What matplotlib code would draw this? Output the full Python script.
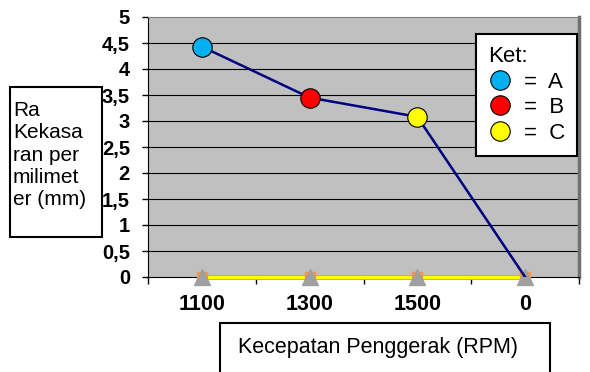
import matplotlib.pyplot as plt
from matplotlib.lines import Line2D
from matplotlib.patches import Rectangle

plt.rcParams['font.family'] = ['Liberation Sans', 'DejaVu Sans']

# data
categories = ["1100", "1300", "1500", "0"]
ra_values = [4.43, 3.45, 3.08, 0]
point_colors = ["#00B0F0", "#FF0000", "#FFFF00"]
baseline = [0, 0, 0, 0]
y_ticks = [0, 0.5, 1, 1.5, 2, 2.5, 3, 3.5, 4, 4.5, 5]
y_tick_labels = ["0", "0,5", "1", "1,5", "2", "2,5", "3", "3,5", "4", "4,5", "5"]
legend_labels = ["=  A", "=  B", "=  C"]

W, H = 590, 372
fig = plt.figure(figsize=(W / 100, H / 100), dpi=100)
ax = fig.add_axes([148 / W, 1 - 277 / H, 431 / W, 260 / H])
ax.set_facecolor("#C0C0C0")

x = list(range(len(categories)))

# grid lines
for v in y_ticks[1:-1]:
    ax.axhline(v, color="black", lw=0.8, zorder=1)

# baseline series at zero
ax.plot(x, baseline, color="#F79646", lw=3.5, zorder=3, clip_on=False)
ax.plot(x, baseline, color="#FFFF00", lw=2.2, zorder=3.5, clip_on=False)
ax.plot(x, baseline, ls="", marker="s", ms=7, color="#F79646", zorder=4, clip_on=False)
ax.plot(x, baseline, ls="", marker="^", ms=11, color="#A0A0A0", zorder=5, clip_on=False)

# main series
ax.plot(x, ra_values, color="#000080", lw=1.8, zorder=6)
for xi, yi, c in zip(x, ra_values, point_colors):
    ax.plot(xi, yi, marker="o", ms=14, mfc=c, mec="black", mew=0.8, zorder=7)

ax.set_xlim(-0.5, len(categories) - 0.5)
ax.set_ylim(0, 5)

ax.set_yticks(y_ticks)
ax.set_yticklabels(y_tick_labels, fontsize=14.5, fontweight="bold")
ax.tick_params(axis="y", direction="out", length=4, width=1, pad=9)

ax.set_xticks(x)
ax.set_xticklabels(categories, fontsize=15.5, fontweight="bold")
ax.set_xticks([i - 0.5 for i in range(len(categories) + 1)], minor=True)
ax.tick_params(axis="x", which="major", length=0, pad=12)
ax.tick_params(axis="x", which="minor", direction="out", length=5, width=1)

ax.spines["left"].set_color("black")
ax.spines["bottom"].set_color("black")
ax.spines["top"].set_color("#808080")
ax.spines["right"].set_color("#707070")
ax.spines["right"].set_linewidth(2.5)

# legend
handles = [Line2D([], [], ls="", marker="o", ms=14, mfc=c, mec="black", mew=0.8)
           for c in point_colors]
leg = ax.legend(handles, legend_labels, title="Ket:", loc="upper left",
                bbox_to_anchor=(476 / W, 1 - 34 / H), bbox_transform=fig.transFigure,
                fontsize=16, title_fontsize=16, frameon=True, fancybox=False,
                borderpad=0.55, labelspacing=0.2, handletextpad=0.5,
                handlelength=1.1, borderaxespad=0)
leg._legend_box.align = "left"
leg.get_frame().set_edgecolor("black")
leg.get_frame().set_linewidth(1.5)
leg.get_frame().set_alpha(1)
leg.set_zorder(10)

# y-axis title box
fig.patches.append(Rectangle((10 / W, 1 - 237 / H), 92 / W, 150 / H,
                             transform=fig.transFigure, fill=True, fc="white",
                             ec="black", lw=1.5))
fig.text(13 / W, 1 - 101 / H, "Ra\nKekasa\nran per\nmilimet\ner (mm)",
         fontsize=15, va="top", ha="left", linespacing=1.22)

# x-axis title box
fig.patches.append(Rectangle((220 / W, 1 - 380 / H), 330 / W, 57 / H,
                             transform=fig.transFigure, fill=True, fc="white",
                             ec="black", lw=1.5))
fig.text(378 / W, 1 - 348 / H, "Kecepatan Penggerak (RPM)",
         fontsize=15.5, va="center", ha="center")

fig.savefig("out.png", dpi=100)
